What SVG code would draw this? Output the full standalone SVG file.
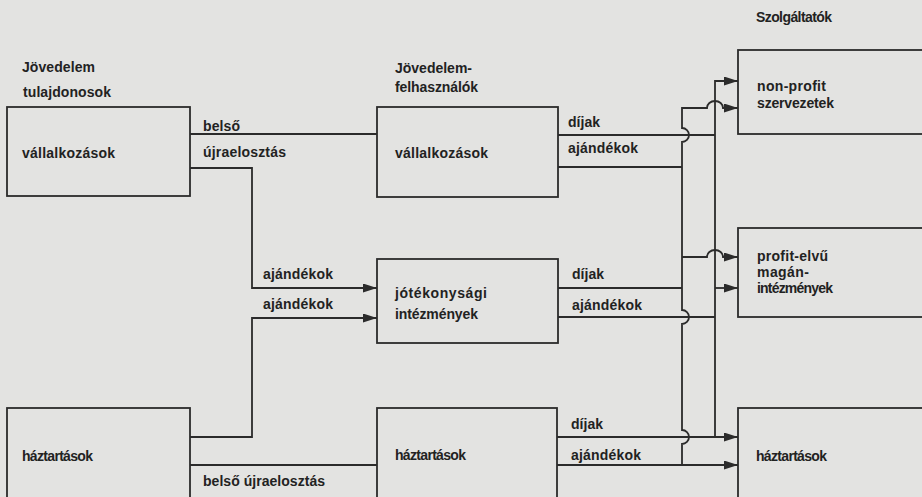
<svg xmlns="http://www.w3.org/2000/svg" width="922" height="497" viewBox="0 0 922 497">
<defs>
<marker id="ah" markerUnits="userSpaceOnUse" markerWidth="14" markerHeight="9" refX="14" refY="4.5" orient="auto"><path d="M0,0 L14,4.5 L0,9 z" fill="#2b2b2b"/></marker>
</defs>
<style>
.box{fill:none;stroke:#2b2b2b;stroke-width:1.8}
.c{fill:none;stroke:#2b2b2b;stroke-width:1.8}
.a{marker-end:url(#ah)}
text{font-family:"Liberation Sans",Arial,sans-serif;font-weight:bold;font-size:14px;fill:#222}
</style>
<rect width="922" height="497" fill="#e3e3e1"/>

<g id="hdr-tulajdonosok"><text x="22" y="72" textLength="73">Jövedelem</text><text x="23" y="97" textLength="88">tulajdonosok</text></g>
<g id="hdr-felhasznalok"><text x="395" y="73" textLength="77">Jövedelem-</text><text x="395" y="92" textLength="83">felhasználók</text></g>
<g id="hdr-szolgaltatok"><text x="756" y="22" textLength="76">Szolgáltatók</text></g>

<g id="left-vallalkozasok"><rect class="box" x="7" y="107" width="183" height="89"/><text x="22" y="158" textLength="93">vállalkozások</text></g>
<g id="left-haztartasok"><rect class="box" x="7" y="408" width="183" height="100"/><text x="22" y="461" textLength="71">háztartások</text></g>
<g id="mid-vallalkozasok"><rect class="box" x="377" y="107" width="181" height="90"/><text x="395" y="158" textLength="93">vállalkozások</text></g>
<g id="mid-jotekonysagi"><rect class="box" x="377" y="259" width="181" height="84"/><text x="395" y="298" textLength="92">jótékonysági</text><text x="395" y="319" textLength="83">intézmények</text></g>
<g id="mid-haztartasok"><rect class="box" x="377" y="408" width="180" height="100"/><text x="395" y="460" textLength="71">háztartások</text></g>
<g id="r-nonprofit"><rect class="box" x="738" y="50" width="200" height="84"/><text x="757" y="91" textLength="69">non-profit</text><text x="757" y="108" textLength="77">szervezetek</text></g>
<g id="r-profit"><rect class="box" x="738" y="228" width="200" height="89"/><text x="757" y="261" textLength="71">profit-elvű</text><text x="757" y="277" textLength="52">magán-</text><text x="757" y="293" textLength="76">intézmények</text></g>
<g id="r-haztartasok"><rect class="box" x="738" y="408" width="200" height="100"/><text x="756" y="461" textLength="71">háztartások</text></g>

<g id="connectors">
<path class="c" d="M190,134 H377"/>
<path class="c a" d="M190,168 H252 V288 H377"/>
<path class="c a" d="M190,437 H252 V318 H377"/>
<path class="c" d="M190,465 H377"/>
<path class="c a" d="M682,465 V444 A7,7 0 0 0 682,430 V324 A7,7 0 0 0 682,310 V142 A7,7 0 0 0 682,128 V108 H707 A8,7 0 0 1 723,108 H738"/>
<path class="c a" d="M682,257 H707 A8,7 0 0 1 723,257 H738"/>
<path class="c a" d="M715,437 V81 H738"/>
<path class="c a" d="M715,288 H738"/>
<path class="c" d="M558,135 H715"/>
<path class="c" d="M558,167 H682"/>
<path class="c" d="M558,288 H682"/>
<path class="c" d="M558,317 H715"/>
<path class="c a" d="M557,437 H738"/>
<path class="c a" d="M557,465 H738"/>
<text x="203" y="131" textLength="37">belső</text>
<text x="203" y="157" textLength="83">újraelosztás</text>
<text x="263" y="279" textLength="70">ajándékok</text>
<text x="263" y="309" textLength="70">ajándékok</text>
<text x="203" y="486" textLength="122">belső újraelosztás</text>
<text x="568" y="127" textLength="32">díjak</text>
<text x="568" y="153" textLength="70">ajándékok</text>
<text x="572" y="279" textLength="32">díjak</text>
<text x="572" y="310" textLength="70">ajándékok</text>
<text x="571" y="429" textLength="32">díjak</text>
<text x="571" y="460" textLength="70">ajándékok</text>
</g>
</svg>
